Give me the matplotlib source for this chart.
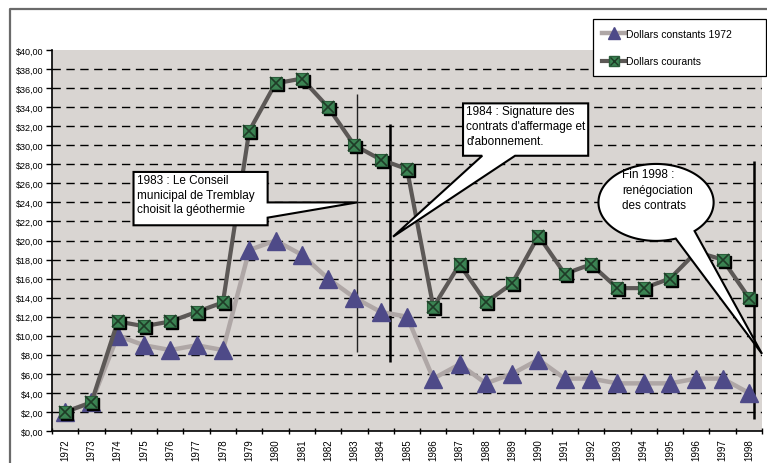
import numpy as np
import matplotlib
matplotlib.use("Agg")
import matplotlib.pyplot as plt
import matplotlib.transforms as mtransforms
from matplotlib.lines import Line2D
from matplotlib.patches import Polygon
from matplotlib.legend_handler import HandlerTuple

plt.rcParams['font.family'] = ['Liberation Sans', 'DejaVu Sans']

# Prix annuel de la chaleur, 1972-1998
years = list(range(1972, 1999))
dollars_constants_1972 = [2.0, 3.0, 10.0, 9.0, 8.5, 9.0, 8.5, 19.0, 20.0, 18.5,
                          16.0, 14.0, 12.5, 12.0, 5.5, 7.0, 5.0, 6.0, 7.5, 5.5,
                          5.5, 5.0, 5.0, 5.0, 5.5, 5.5, 4.0]
dollars_courants = [2.0, 3.0, 11.5, 11.0, 11.5, 12.5, 13.5, 31.5, 36.5, 37.0,
                    34.0, 30.0, 28.5, 27.5, 13.0, 17.5, 13.5, 15.5, 20.5, 16.5,
                    17.5, 15.0, 15.0, 16.0, 18.8, 18.0, 14.0]
y_ticks = list(range(0, 41, 2))

fig = plt.figure(figsize=(7.67, 4.64), dpi=100)
ax = fig.add_axes([0.0678, 0.069, 0.9257, 0.821])
ax.set_facecolor('#D9D5D2')

# outer chart border (top and left only)
fig.add_artist(Line2D([10 / 767, 10 / 767, 1.0], [0.0, 1 - 10 / 464, 1 - 10 / 464],
                      transform=fig.transFigure, color='#6A6A6A', lw=1.6))

# dashed grid
ax.hlines(y_ticks[1:-1], 1971.5, 1998.5, colors='black', lw=1.0,
          linestyles=(0, (6, 4)), zorder=1)

# event markers
ax.vlines(1983.1, 8.3, 35.4, colors='#222222', lw=1.0, zorder=2)
ax.vlines(1984.36, 7.25, 32.2, colors='black', lw=1.8, zorder=2)
ax.vlines(1998.2, 1.3, 28.3, colors='black', lw=1.8, zorder=2)

# constant dollars
ax.plot(years, dollars_constants_1972, color='#AFA7A6', lw=3.2, zorder=3,
        solid_capstyle='round')
ax.plot(years, dollars_constants_1972, ls='none', marker='^', ms=13,
        color='#4E4A88', mec='#4E4A88', zorder=4)

# current dollars
ax.plot(years, dollars_courants, color='#5C5856', lw=3.0, zorder=5)
shadow = mtransforms.offset_copy(ax.transData, fig=fig, x=2, y=-2, units='dots')
ax.plot(years, dollars_courants, ls='none', marker='s', ms=9, color='black',
        transform=shadow, zorder=6)
ax.plot(years, dollars_courants, ls='none', marker='s', ms=9, color='#3B8453',
        mec='#2A5E3B', mew=0.8, zorder=7)
ax.plot(years, dollars_courants, ls='none', marker='x', ms=8, color='#1F3B27',
        mew=1.2, zorder=8)

# axes
ax.set_xlim(1971.5, 1998.5)
ax.set_ylim(0, 40)
ax.set_yticks(y_ticks)
ax.set_yticklabels(['${:.2f}'.format(v).replace('.', ',') for v in y_ticks],
                   fontsize=6.5)
ax.set_xticks(years)
ax.set_xticklabels([str(y) for y in years], rotation=90, fontsize=7)
ax.set_xticks(np.arange(1971.5, 1999, 1.0), minor=True)
ax.tick_params(axis='x', which='major', length=0, pad=5)
ax.tick_params(axis='x', which='minor', length=4, width=1, direction='inout')
ax.tick_params(axis='y', length=4, width=1, direction='out', pad=2)
for side in ('top', 'right'):
    ax.spines[side].set_visible(False)
for side in ('left', 'bottom'):
    ax.spines[side].set_linewidth(1.2)

# callout 1983
box1 = [(1974.6, 27.2), (1979.7, 27.2), (1979.7, 24.0), (1983.1, 24.0),
        (1979.7, 22.4), (1979.7, 21.6), (1974.6, 21.6)]
ax.add_patch(Polygon(box1, closed=True, fc='white', ec='black', lw=1.5,
                     zorder=10, joinstyle='miter'))
ax.text(1974.75, 27.0, "1983 : Le Conseil\nmunicipal de Tremblay\nchoisit la géothermie",
        fontsize=8.5, va='top', ha='left', linespacing=1.3, zorder=11)

# callout 1984
box2 = [(1987.13, 34.4), (1991.89, 34.4), (1991.89, 28.9), (1989.11, 28.9),
        (1984.47, 20.4), (1987.86, 28.9), (1987.13, 28.9)]
ax.add_patch(Polygon(box2, closed=True, fc='white', ec='black', lw=1.5,
                     zorder=10, joinstyle='miter'))
ax.text(1987.25, 34.2, "1984 : Signature des\ncontrats d'affermage et\nd'abonnement.",
        fontsize=8.5, va='top', ha='left', linespacing=1.3, zorder=11)

# speech bubble, end of 1998
cx, cy, rx, ry = 1994.47, 24.0, 2.19, 4.04
t = np.radians(np.linspace(-48, 290, 200))
bubble = list(zip(cx + rx * np.cos(t), cy + ry * np.sin(t))) + [(1998.5, 8.1)]
ax.add_patch(Polygon(bubble, closed=True, fc='white', ec='black', lw=1.5,
                     zorder=10, clip_on=False))
ax.text(1993.18, 27.6, "Fin 1998 :\nrenégociation\ndes contrats",
        fontsize=8.5, va='top', ha='left', linespacing=1.4, zorder=11)

# legend
h_const = Line2D([], [], color='#AFA7A6', lw=3.2, marker='^', ms=8,
                 mfc='#4E4A88', mec='#4E4A88')
h_cour_line = Line2D([], [], color='#5C5856', lw=3.0, marker='s', ms=7,
                     mfc='#3B8453', mec='#2A5E3B')
h_cour_x = Line2D([], [], ls='none', marker='x', ms=6, color='#1F3B27', mew=1)
leg = ax.legend([h_const, (h_cour_line, h_cour_x)],
                ['Dollars constants 1972', 'Dollars courants'],
                handler_map={tuple: HandlerTuple(ndivide=1)},
                loc='upper left', bbox_to_anchor=(0.762, 0.929, 0.244, 0.152),
                mode='expand', borderaxespad=0, fontsize=7.5, handlelength=2.2,
                handletextpad=0.1, labelspacing=1.7, borderpad=0.9,
                fancybox=False, framealpha=1, edgecolor='black')
leg.get_frame().set_linewidth(0.9)
leg.set_zorder(12)

fig.savefig('out.png', dpi=100)
